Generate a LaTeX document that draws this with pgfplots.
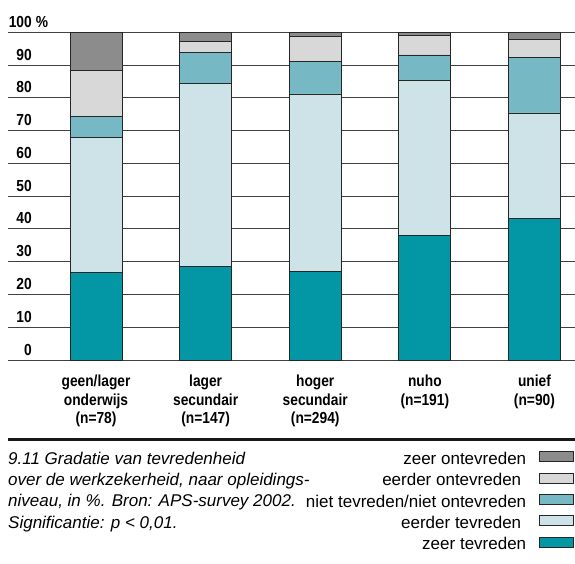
\documentclass[border=0pt]{standalone}
\usepackage{fontspec}
\setmainfont{Liberation Sans}
\newfontfamily\cond[FakeStretch=0.86]{Liberation Sans}
\usepackage{pgfplots}
\pgfplotsset{compat=1.18}
\definecolor{zt}{RGB}{3,151,166}
\definecolor{et}{RGB}{205,227,232}
\definecolor{nt}{RGB}{118,184,195}
\definecolor{eo}{RGB}{216,216,216}
\definecolor{zo}{RGB}{140,140,140}
\begin{document}
\begin{tikzpicture}
\path[use as bounding box] (0,0) rectangle (575pt,-564pt);
\begin{axis}[
  at={(8pt,-360pt)}, anchor=south west,
  scale only axis, width=567pt, height=327.7pt,
  xmin=-0.803, xmax=4.370, ymin=0, ymax=100,
  ybar stacked, bar width=52pt,
  axis line style={draw=none}, major tick length=0pt,
  ytick={0,10,...,100},
  yticklabels={0,10,20,30,40,50,60,70,80,90,100\rlap{\kern4pt\%}},
  yticklabel style={font=\cond\bfseries\fontsize{16}{19}\selectfont, anchor=base east, inner sep=0pt, xshift=24pt, yshift=5pt},
  ymajorgrids, grid style={black!75, line width=1pt},
  xtick={0,1,2,3,4},
  xticklabels={{geen/lager\\onderwijs\\(n=78)},{lager\\secundair\\(n=147)},{hoger\\secundair\\(n=294)},{nuho\\(n=191)},{unief\\(n=90)}},
  xticklabel style={font=\cond\bfseries\fontsize{16}{18.5}\selectfont, align=center, anchor=north, inner sep=0pt, yshift=-15pt},
  every axis plot/.append style={draw=black!85, line width=0.8pt},
  legend plot pos=right, legend cell align=right, reverse legend,
  legend image code/.code={\draw[#1, line width=0.8pt] (0pt,0.3pt) rectangle (34pt,10.3pt);},
  legend style={at={(rel axis cs:1,0)}, anchor=north east, xshift=-1pt, yshift=-91.3pt,
    draw=none, fill=none, inner sep=0pt, outer sep=0pt,
    font=\fontsize{17}{21.3}\selectfont,
    nodes={inner sep=0pt, text height=13pt, text depth=8.3pt},
    column sep=13pt, row sep=0pt},
]
\addplot[fill=zt] coordinates {(0,26.8) (1,28.5) (2,27.1) (3,38.0) (4,43.1)};
\addlegendentry{zeer tevreden}
\addplot[fill=et] coordinates {(0,41.1) (1,55.8) (2,54.1) (3,47.3) (4,32.3)};
\addlegendentry{eerder tevreden\kern5pt}
\addplot[fill=nt] coordinates {(0,6.3) (1,9.5) (2,9.8) (3,7.8) (4,16.8)};
\addlegendentry{niet tevreden/niet ontevreden}
\addplot[fill=eo] coordinates {(0,14.1) (1,3.4) (2,7.6) (3,6.0) (4,5.6)};
\addlegendentry{eerder ontevreden\kern5pt}
\addplot[fill=zo] coordinates {(0,11.7) (1,2.8) (2,1.4) (3,0.9) (4,2.2)};
\addlegendentry{zeer ontevreden}
\end{axis}
\draw[black!90, line width=3pt] (8pt,-439.3pt) -- (575pt,-439.3pt);
\node[anchor=base west, align=left, inner sep=0pt, font=\itshape\fontsize{17}{21.3}\selectfont] at (8pt,-528.2pt)
 {9.11 Gradatie van tevredenheid\\over de werkzekerheid, naar opleidings-\\niveau, in \%. Bron: APS-survey 2002.\\Significantie: p < 0,01.};
\end{tikzpicture}
\end{document}
